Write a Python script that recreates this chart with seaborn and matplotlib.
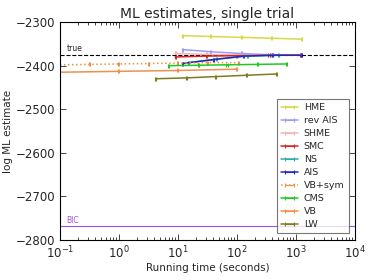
import numpy as np
import pandas as pd
import matplotlib
matplotlib.use('Agg')
import matplotlib.pyplot as plt
import seaborn as sns

# values
methods = ['HME', 'rev AIS', 'SHME', 'SMC', 'NS', 'AIS', 'VB+sym', 'CMS', 'VB', 'LW']
colors = ['#d8d84a', '#9c9cf8', '#f8b4b4', '#cc2a2a', '#2aacac', '#2626b8',
          '#ee9040', '#22c822', '#f0904a', '#7c7c22']

hme_t = [12, 36, 120, 380, 1250]
hme_y = [-2331, -2333, -2335, -2337, -2339]
revais_t = [12, 36, 120, 380, 1250]
revais_y = [-2363, -2368, -2372, -2375, -2376]
shme_t = [9, 30, 100, 350, 1200]
shme_y = [-2372, -2374, -2375, -2376, -2376]
smc_t = [9, 30, 100, 350, 1200]
smc_y = [-2380, -2378, -2377, -2376, -2376]
ns_t = [15, 45, 150, 500]
ns_y = [-2393, -2385, -2378, -2376]
ais_t = [12, 40, 130, 400, 1250]
ais_y = [-2395, -2386, -2378, -2376, -2376]
vbsym_t = [0.1, 0.32, 1, 3.2, 10, 32, 105]
vbsym_y = [-2398, -2397, -2396, -2395, -2394, -2393, -2393]
cms_t = [7, 22, 68, 220, 690]
cms_y = [-2400, -2399, -2398, -2397, -2396]
vb_t = [0.1, 1, 10, 100]
vb_y = [-2415, -2413, -2411, -2408]
lw_t = [4.2, 14, 44, 143, 470]
lw_y = [-2430, -2428, -2425, -2422, -2419]

true_ml = -2376
bic_ml = -2769

series = {
    'HME': (hme_t, hme_y), 'rev AIS': (revais_t, revais_y),
    'SHME': (shme_t, shme_y), 'SMC': (smc_t, smc_y), 'NS': (ns_t, ns_y),
    'AIS': (ais_t, ais_y), 'VB+sym': (vbsym_t, vbsym_y), 'CMS': (cms_t, cms_y),
    'VB': (vb_t, vb_y), 'LW': (lw_t, lw_y),
}

rows = []
for m in methods:
    t, y = series[m]
    for ti, yi in zip(t, y):
        rows.append({'method': m, 'time': ti, 'logml': yi})
df = pd.DataFrame(rows)

sns.set_style('ticks', {'xtick.direction': 'in', 'ytick.direction': 'in'})
plt.rcParams['font.family'] = ['DejaVu Sans']

fig = plt.figure(figsize=(3.74, 2.8), dpi=100)
ax = fig.add_axes([0.16, 0.143, 0.789, 0.778])

for m, c in zip(methods, colors):
    d = df[df['method'] == m]
    ls = ':' if m == 'VB+sym' else '-'
    ax.errorbar(d['time'], d['logml'], xerr=d['time'] * 0.02, color=c, ls=ls,
                lw=1.1, elinewidth=0.8, capsize=1.2, capthick=0.8, label=m)

ax.axhline(true_ml, color='black', ls='--', lw=0.8)
ax.axhline(bic_ml, color='#a050e0', lw=0.8)
ax.text(0.13, true_ml + 4, 'true', fontsize=5.5, va='bottom')
ax.text(0.13, bic_ml + 4, 'BIC', fontsize=5.5, va='bottom', color='#a050e0')

ax.set_xscale('log')
ax.set_xlim(0.1, 1e4)
ax.set_ylim(-2800, -2300)
ax.set_yticks([-2800, -2700, -2600, -2500, -2400, -2300])
ax.tick_params(which='both', top=True, right=True, labelsize=8.5, width=0.6)
ax.tick_params(which='major', length=4)
ax.tick_params(which='minor', length=2)
for s in ax.spines.values():
    s.set_linewidth(0.8)
    s.set_color('black')

ax.set_title('ML estimates, single trial', fontsize=10, pad=3)
ax.set_xlabel('Running time (seconds)', fontsize=7.5, labelpad=1)
ax.set_ylabel('log ML estimate', fontsize=7.5, labelpad=2)

leg = ax.legend(loc='lower right', fontsize=6.8, frameon=True, fancybox=False,
                handlelength=1.8, labelspacing=0.42, borderpad=0.45,
                handletextpad=0.6, bbox_to_anchor=(0.995, 0.01))
leg.get_frame().set_edgecolor('#555555')
leg.get_frame().set_linewidth(0.8)

fig.savefig('out.png', dpi=100)
